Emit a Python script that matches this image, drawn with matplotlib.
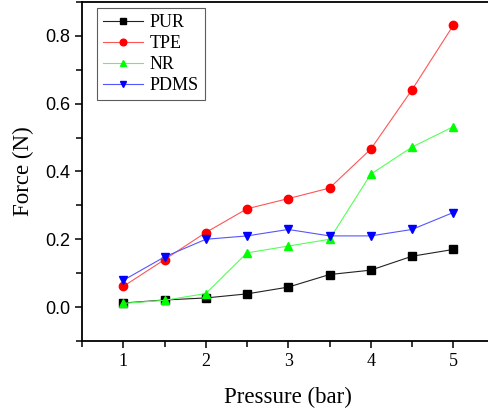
import matplotlib
matplotlib.use("Agg")
import matplotlib.pyplot as plt
from matplotlib.ticker import MultipleLocator

pressure = [1, 1.5, 2, 2.5, 3, 3.5, 4, 4.5, 5]
pur = [0.012, 0.021, 0.027, 0.039, 0.059, 0.096, 0.109, 0.15, 0.17]
tpe = [0.061, 0.14, 0.22, 0.29, 0.32, 0.351, 0.466, 0.641, 0.831]
nr = [0.011, 0.02, 0.04, 0.16, 0.18, 0.2, 0.392, 0.472, 0.532]
pdms = [0.079, 0.148, 0.2, 0.21, 0.229, 0.21, 0.21, 0.229, 0.279]

series = [
    ("PUR", pur, "black", "#222222", "s"),
    ("TPE", tpe, "red", "#ff5555", "o"),
    ("NR", nr, "#00ff00", "#55ff55", "^"),
    ("PDMS", pdms, "blue", "#5555ff", "v"),
]

fig = plt.figure(figsize=(4.89, 4.08), dpi=100)
ax = fig.add_axes([0.1677, 0.1642, 0.8436, 0.831])

for name, vals, mc, lc, mk in series:
    ax.plot(pressure, vals, color=lc, lw=0.8, marker=mk, markersize=6,
            markerfacecolor=mc, markeredgecolor=mc, label=name)

ax.set_xlim(0.5, 5.5)
ax.set_ylim(-0.1, 0.9)
ax.xaxis.set_major_locator(MultipleLocator(1))
ax.xaxis.set_minor_locator(MultipleLocator(0.5))
ax.yaxis.set_major_locator(MultipleLocator(0.2))
ax.yaxis.set_minor_locator(MultipleLocator(0.1))
ax.set_xticks([1, 2, 3, 4, 5])
ax.yaxis.set_major_formatter(matplotlib.ticker.FormatStrFormatter("%.1f"))

ax.tick_params(which="major", direction="out", length=5, width=1.1)
ax.tick_params(which="minor", direction="out", length=4, width=1.1)
for lab in ax.get_xticklabels():
    lab.set_fontfamily("Liberation Serif")
    lab.set_fontsize(13)
for lab in ax.get_yticklabels():
    lab.set_fontfamily("Liberation Sans")
    lab.set_fontsize(13)

for s in ax.spines.values():
    s.set_linewidth(1.3)

ax.set_xlabel("Pressure (bar)", fontfamily="Liberation Serif", fontsize=16.5, labelpad=12)
ax.set_ylabel("Force (N)", fontfamily="Liberation Serif", fontsize=16.5, labelpad=8)

leg = ax.legend(loc="upper left", bbox_to_anchor=(0.036, 0.983), frameon=True, fancybox=False,
                prop={"family": "Liberation Serif", "size": 13}, handlelength=2.2,
                borderpad=0.35, labelspacing=0.22, handletextpad=0.35, borderaxespad=0,
                markerscale=0.8)
leg.get_frame().set_edgecolor("#333333")
leg.get_frame().set_linewidth(0.8)

fig.savefig("out.png", dpi=100)
